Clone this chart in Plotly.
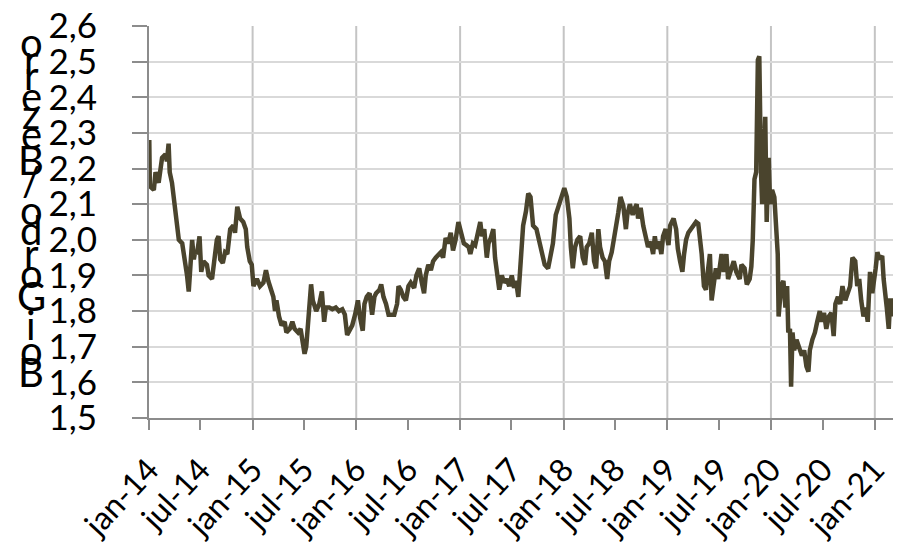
import plotly.graph_objects as go

# ---------------- data ----------------
dates = [
    "2014-01-02","2014-01-04","2014-01-18","2014-01-24","2014-02-04","2014-02-16","2014-02-28","2014-03-05",
    "2014-03-11","2014-03-15","2014-03-23","2014-03-29","2014-04-04","2014-04-10","2014-04-16","2014-04-28",
    "2014-05-09","2014-05-15","2014-05-21","2014-05-27","2014-06-02","2014-06-08","2014-06-13","2014-06-19",
    "2014-06-28","2014-07-04","2014-07-12","2014-07-24","2014-07-30","2014-08-11","2014-08-16","2014-08-28",
    "2014-09-03","2014-09-09","2014-09-18","2014-09-26","2014-10-04","2014-10-14","2014-10-25","2014-10-31",
    "2014-11-08","2014-11-18","2014-11-29","2014-12-08","2014-12-13","2014-12-22","2014-12-29",
    "2015-01-04","2015-01-16","2015-01-27","2015-02-08","2015-02-17","2015-02-25","2015-03-06","2015-03-15",
    "2015-03-21","2015-03-26","2015-04-04","2015-04-13","2015-04-24","2015-04-30","2015-05-12","2015-05-21",
    "2015-05-29","2015-06-10","2015-06-19","2015-06-27","2015-07-03","2015-07-09","2015-07-15","2015-07-20",
    "2015-07-26","2015-08-01","2015-08-13","2015-08-24","2015-09-02","2015-09-10","2015-09-16","2015-09-28",
    "2015-10-09","2015-10-21","2015-11-01","2015-11-13","2015-11-22","2015-11-30","2015-12-09","2015-12-18",
    "2015-12-28",
    "2016-01-07","2016-01-15","2016-01-24","2016-01-30","2016-02-07","2016-02-17","2016-02-26","2016-03-05",
    "2016-03-11","2016-03-23","2016-03-29","2016-04-06","2016-04-15","2016-04-24","2016-05-03","2016-05-14",
    "2016-05-24","2016-05-29","2016-06-06","2016-06-15","2016-06-24","2016-07-03","2016-07-11","2016-07-23",
    "2016-07-31","2016-08-10","2016-08-19","2016-08-27","2016-09-02","2016-09-11","2016-09-20","2016-09-28",
    "2016-10-07","2016-10-16","2016-10-25","2016-11-02","2016-11-11","2016-11-20","2016-11-29","2016-12-07",
    "2016-12-16","2016-12-26",
    "2017-01-08","2017-01-14","2017-01-23","2017-01-31","2017-02-06","2017-02-15","2017-02-23","2017-03-03",
    "2017-03-13","2017-03-19","2017-03-27","2017-04-05","2017-04-11","2017-04-19","2017-04-28","2017-05-04",
    "2017-05-10","2017-05-19","2017-05-28","2017-06-05","2017-06-14","2017-06-23","2017-07-02","2017-07-10",
    "2017-07-17","2017-07-25","2017-07-31","2017-08-06","2017-08-11","2017-08-21","2017-08-29","2017-09-06",
    "2017-09-15","2017-09-27","2017-10-06","2017-10-15","2017-10-26","2017-11-07","2017-11-15","2017-11-24",
    "2017-12-04","2017-12-12","2017-12-24",
    "2018-01-03","2018-01-12","2018-01-21","2018-01-26","2018-02-02","2018-02-10","2018-02-18","2018-02-28",
    "2018-03-09","2018-03-17","2018-03-23","2018-04-01","2018-04-10","2018-04-18","2018-04-25","2018-05-03",
    "2018-05-09","2018-05-18","2018-05-26","2018-06-03","2018-06-10","2018-06-19","2018-06-30","2018-07-12",
    "2018-07-20","2018-07-30","2018-08-08","2018-08-13","2018-08-22","2018-09-01","2018-09-09","2018-09-15",
    "2018-09-20","2018-09-29","2018-10-08","2018-10-17","2018-10-25","2018-11-03","2018-11-12","2018-11-18",
    "2018-11-24","2018-12-03","2018-12-11","2018-12-17","2018-12-26",
    "2019-01-05","2019-01-11","2019-01-17","2019-01-23","2019-02-01","2019-02-07","2019-02-15","2019-02-23",
    "2019-03-01","2019-03-08","2019-03-16","2019-03-25","2019-04-03","2019-04-12","2019-04-20","2019-04-26",
    "2019-05-02","2019-05-10","2019-05-17","2019-05-25","2019-05-31","2019-06-06","2019-06-12","2019-06-21",
    "2019-06-29","2019-07-03","2019-07-11","2019-07-19","2019-07-28","2019-08-03","2019-08-15","2019-08-23",
    "2019-09-01","2019-09-13","2019-09-19","2019-09-30","2019-10-08","2019-10-18","2019-10-24","2019-10-29",
    "2019-11-04","2019-11-10","2019-11-16","2019-11-21","2019-11-27","2019-12-01","2019-12-05","2019-12-12",
    "2019-12-17","2019-12-24","2019-12-29",
    "2020-01-05","2020-01-13","2020-01-19","2020-01-25","2020-01-28","2020-02-06","2020-02-14","2020-02-21",
    "2020-02-27","2020-03-02","2020-03-08","2020-03-12","2020-03-17","2020-03-23","2020-03-31","2020-04-10",
    "2020-04-19","2020-04-27","2020-05-05","2020-05-12","2020-05-17","2020-05-26","2020-06-04","2020-06-12",
    "2020-06-21","2020-06-28","2020-07-06","2020-07-14","2020-07-23","2020-08-01","2020-08-09","2020-08-15",
    "2020-08-24","2020-09-01","2020-09-09","2020-09-19","2020-09-28","2020-10-06","2020-10-14","2020-10-24",
    "2020-10-31","2020-11-07","2020-11-14","2020-11-22","2020-11-30","2020-12-07","2020-12-15","2020-12-23",
    "2021-01-04","2021-01-10","2021-01-18","2021-01-27","2021-02-01","2021-02-08","2021-02-12","2021-02-19",
    "2021-02-24","2021-03-03","2021-03-05",
]

ratio = [
    2.28, 2.15, 2.14, 2.19, 2.16, 2.23, 2.24, 2.22,
    2.27, 2.19, 2.16, 2.12, 2.075, 2.03, 2.00, 1.99,
    1.94, 1.90, 1.855, 1.93, 2.00, 1.945, 1.97, 1.96,
    2.01, 1.91, 1.94, 1.93, 1.90, 1.89, 1.93, 2.00,
    2.01, 1.945, 1.935, 1.965, 1.96, 2.03, 2.04, 2.02,
    2.093, 2.06, 2.05, 2.03, 1.98, 1.94, 1.93,
    1.87, 1.89, 1.87, 1.88, 1.915, 1.885, 1.86, 1.84,
    1.80, 1.83, 1.785, 1.76, 1.77, 1.74, 1.75, 1.77,
    1.75, 1.74, 1.75, 1.70, 1.68, 1.70, 1.77, 1.83,
    1.875, 1.83, 1.80, 1.82, 1.855, 1.77, 1.81, 1.81,
    1.805, 1.81, 1.80, 1.805, 1.79, 1.733, 1.745, 1.76,
    1.79,
    1.83, 1.78, 1.745, 1.82, 1.84, 1.85, 1.79, 1.84,
    1.85, 1.86, 1.875, 1.84, 1.82, 1.79, 1.79, 1.79,
    1.82, 1.87, 1.86, 1.84, 1.83, 1.87, 1.88, 1.865,
    1.90, 1.92, 1.88, 1.85, 1.90, 1.93, 1.915, 1.94,
    1.95, 1.96, 1.965, 1.95, 2.005, 1.99, 2.02, 1.97,
    2.00, 2.05,
    2.01, 1.99, 1.985, 1.98, 1.96, 1.99, 1.985, 2.02,
    2.05, 2.01, 2.03, 1.95, 1.99, 2.005, 2.03, 1.95,
    1.92, 1.86, 1.90, 1.88, 1.89, 1.87, 1.90, 1.865,
    1.885, 1.84, 1.91, 2.00, 2.04, 2.08, 2.13, 2.12,
    2.04, 2.03, 2.00, 1.96, 1.93, 1.92, 1.95, 1.99,
    2.07, 2.09, 2.13,
    2.145, 2.12, 2.06, 1.98, 1.92, 1.98, 2.00, 2.01,
    1.95, 1.93, 1.98, 1.99, 2.02, 1.94, 1.92, 2.03,
    1.98, 1.95, 1.94, 1.89, 1.94, 1.965, 2.01, 2.075,
    2.12, 2.095, 2.03, 2.07, 2.10, 2.07, 2.09, 2.10,
    2.06, 2.09, 2.04, 2.01, 1.98, 1.995, 1.96, 2.01,
    1.975, 1.995, 1.96, 2.01, 2.03,
    1.985, 2.04, 2.05, 2.06, 2.03, 1.975, 1.94, 1.91,
    1.96, 2.00, 2.02, 2.03, 2.04, 2.05, 2.045, 2.01,
    1.96, 1.87, 1.86, 1.92, 1.96, 1.83, 1.87, 1.92,
    1.89, 1.91, 1.96, 1.91, 1.96, 1.89, 1.92, 1.94,
    1.91, 1.89, 1.93, 1.92, 1.875, 1.89, 1.925, 2.00,
    2.17, 2.19, 2.505, 2.515, 2.19, 2.10, 2.19, 2.345,
    2.05, 2.23, 2.10,
    2.14, 2.12, 2.05, 1.96, 1.785, 1.87, 1.885, 1.81,
    1.87, 1.74, 1.75, 1.588, 1.74, 1.69, 1.72, 1.70,
    1.675, 1.69, 1.645, 1.63, 1.69, 1.72, 1.74, 1.77,
    1.80, 1.77, 1.795, 1.75, 1.785, 1.795, 1.73, 1.82,
    1.84, 1.82, 1.87, 1.83, 1.85, 1.87, 1.95, 1.94,
    1.87, 1.89, 1.83, 1.785, 1.81, 1.77, 1.91, 1.85,
    1.92, 1.965, 1.945, 1.955, 1.89, 1.85, 1.81, 1.75,
    1.83, 1.83, 1.785,
]

tick_dates = ["2014-01-01","2014-07-01","2015-01-01","2015-07-01","2016-01-01","2016-07-01",
              "2017-01-01","2017-07-01","2018-01-01","2018-07-01","2019-01-01","2019-07-01",
              "2020-01-01","2020-07-01","2021-01-01"]
tick_labels = ["jan-14","jul-14","jan-15","jul-15","jan-16","jul-16","jan-17","jul-17",
               "jan-18","jul-18","jan-19","jul-19","jan-20","jul-20","jan-21"]
year_grid = [d for d in tick_dates if d.endswith("-01-01")]

y_values = [1.5, 1.6, 1.7, 1.8, 1.9, 2.0, 2.1, 2.2, 2.3, 2.4, 2.5, 2.6]

title_text = "Boi Gordo/Bezerro"

# ---------------- figure ----------------
FONT = "Lato, 'DejaVu Sans', sans-serif"
LINE = "#4a442d"
GRID = "#d9d9d9"
AXIS = "#8c8c8c"

# page body has an 8px margin, so figure coordinates = page coordinates - 8
OFF = 8
W, H = 909 - OFF, 548 - OFF
PLOT_L, PLOT_R, PLOT_T, PLOT_B = 149 - OFF, 893 - OFF, 26 - OFF, 418 - OFF

fig = go.Figure()
fig.add_trace(go.Scatter(x=dates, y=ratio, mode="lines",
                         line=dict(color=LINE, width=4.5), hoverinfo="x+y"))

for d in year_grid[1:]:
    fig.add_shape(type="line", xref="x", yref="paper", x0=d, x1=d, y0=0, y1=1,
                  line=dict(color="#c4c4c4", width=2), layer="below")

# stacked, upright letters of the vertical axis title (bottom -> top)
letters = [c for c in title_text if c != " "]
letter_y = [372, 350, 325, 296, 273, 253, 230, 210, 181, 160, 134, 114, 96, 75, 59, 42]
for ch, py in zip(letters, letter_y):
    fig.add_annotation(text=ch, xref="paper", yref="paper",
                       x=(31 - OFF - PLOT_L) / (PLOT_R - PLOT_L),
                       y=(PLOT_B - (py - OFF)) / (PLOT_B - PLOT_T),
                       xanchor="center", yanchor="middle", showarrow=False,
                       font=dict(family=FONT, size=40, color="black"))

fig.update_layout(
    width=W, height=H,
    margin=dict(l=PLOT_L, r=W - PLOT_R, t=PLOT_T, b=H - PLOT_B),
    paper_bgcolor="white", plot_bgcolor="white",
    separators=",.",
    showlegend=False,
    font=dict(family=FONT, color="black"),
    xaxis=dict(
        type="date", range=["2014-01-01", "2021-03-06"], automargin=False,
        tickvals=tick_dates, ticktext=tick_labels, tickangle=-47,
        tickfont=dict(size=32, family=FONT, color="black"),
        showgrid=False, zeroline=False, ticklabeloverflow="allow",
        showline=True, linecolor=AXIS, linewidth=2,
        ticks="outside", ticklen=10, tickcolor=AXIS, tickwidth=2,
        ticklabelstandoff=8,
    ),
    yaxis=dict(
        range=[1.5, 2.6], tickvals=y_values, tickformat=".1f", automargin=False,
        tickfont=dict(size=35, family=FONT, color="black"),
        showgrid=True, gridcolor=GRID, gridwidth=2, zeroline=False,
        ticklabeloverflow="allow",
        showline=True, linecolor=AXIS, linewidth=2,
        ticks="outside", ticklen=15, tickcolor=AXIS, tickwidth=2,
        ticklabelstandoff=28,
    ),
)

fig.write_html("out.html")
